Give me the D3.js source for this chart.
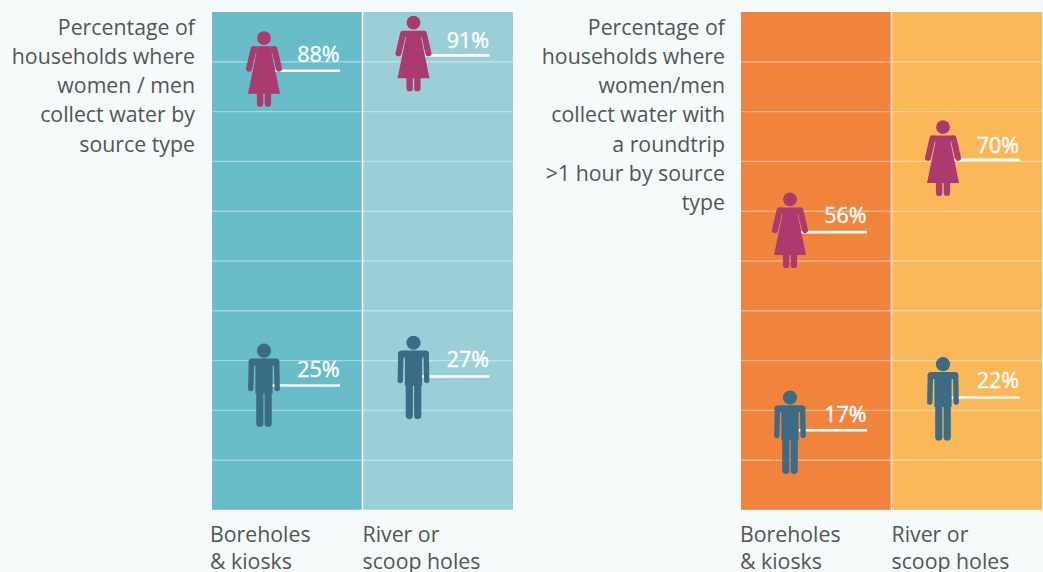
<!DOCTYPE html>
<html><head><meta charset="utf-8">
<script src="https://cdn.jsdelivr.net/npm/d3@7"></script>
<style>html,body{margin:0;padding:0;background:#f5fbfb;overflow:hidden}svg{display:block}text{font-family:"Open Sans",sans-serif}</style>
</head><body><svg id="c" width="1043" height="572"></svg>
<script>
const sourceTypes = ["Boreholes & kiosks", "River or scoop holes"];
const sourceLabelLines = [["Boreholes", "& kiosks"], ["River or", "scoop holes"]];
const gridTicks = [10, 20, 30, 40, 50, 60, 70, 80, 90];
// printed percentages
const womenAll = [88, 91], menAll = [25, 27];
const womenLong = [56, 70], menLong = [17, 22];
// marker heights
const womenAllLevel = [88.2, 91.3], menAllLevel = [25, 26.8];
const womenLongLevel = [55.8, 70.3], menLongLevel = [16, 22.6];
const titleAll = ["Percentage of", "households where", "women / men", "collect water by", "source type"];
const titleLong = ["Percentage of", "households where", "women/men", "collect water with", "a roundtrip", ">1 hour by source", "type"];
const allColours = ["#68bdc9", "#9acfd8"], longColours = ["#f1843c", "#fbb858"];
const womanColour = "#ab3a6e", manColour = "#3b6b85", textColour = "#555555";

const panels = [
  {left: 212, right: 513, titleX: 195, colours: allColours, title: titleAll, labelShift: [-2, 0],
   women: womenAll, men: menAll, wl: womenAllLevel, ml: menAllLevel, off: [52, 51], end: [128, 127],
   wGap: [8.8, 7.3], mGap: [8.2, 9.2], mNudge: [0, 1]},
  {left: 741, right: 1042, titleX: 725, colours: longColours, title: titleLong, labelShift: [-1, 0],
   women: womenLong, men: menLong, wl: womenLongLevel, ml: menLongLevel, off: [49, 51.5], end: [126, 128],
   wGap: [8.8, 7], mGap: [8.5, 9.5], mNudge: [2, 1.5]}
];

const svg = d3.select("#c");
const y = d3.scaleLinear().domain([0, 100]).range([510, 12]);

function drawWoman(g) {
  g.append("circle").attr("cx", 0).attr("cy", -32.7).attr("r", 6.9);
  g.append("path").attr("d", "M-10,-24.5L10,-24.5Q12.5,-24.5 13,-21L7.5,-18L16,23L-16,23L-7.5,-18L-13,-21Q-12.5,-24.5 -10,-24.5Z");
  [-1, 1].forEach(s => {
    g.append("line").attr("x1", s * 10.5).attr("y1", -21.5).attr("x2", s * 15).attr("y2", -2)
      .attr("stroke", "currentColor").attr("stroke-width", 6).attr("stroke-linecap", "round");
    g.append("line").attr("x1", s * 3.9).attr("y1", 22).attr("x2", s * 3.9).attr("y2", 32.8)
      .attr("stroke", "currentColor").attr("stroke-width", 6.4).attr("stroke-linecap", "round");
  });
}
function drawMan(g) {
  g.append("circle").attr("cx", 0).attr("cy", -34.8).attr("r", 7.1);
  g.append("rect").attr("x", -15.4).attr("y", -27).attr("width", 30.8).attr("height", 7).attr("rx", 3.5);
  g.append("rect").attr("x", -8.6).attr("y", -25).attr("width", 17.2).attr("height", 33);
  [-1, 1].forEach(s => {
    g.append("line").attr("x1", s * 12.6).attr("y1", -23.5).attr("x2", s * 13.2).attr("y2", 3)
      .attr("stroke", "currentColor").attr("stroke-width", 5.4).attr("stroke-linecap", "round");
    g.append("line").attr("x1", s * 4.2).attr("y1", 5).attr("x2", s * 4.2).attr("y2", 38)
      .attr("stroke", "currentColor").attr("stroke-width", 7.2).attr("stroke-linecap", "round");
  });
}

panels.forEach(p => {
  const x = d3.scaleBand().domain(sourceTypes).range([p.left, p.right]);
  const g = svg.append("g");

  g.selectAll("rect.col").data(sourceTypes).join("rect").attr("class", "col")
    .attr("x", d => x(d)).attr("y", y(100)).attr("width", x.bandwidth()).attr("height", y(0) - y(100))
    .attr("fill", (d, i) => p.colours[i]);

  g.selectAll("line.grid").data(gridTicks).join("line").attr("class", "grid")
    .attr("x1", p.left).attr("x2", p.right).attr("y1", d => y(d)).attr("y2", d => y(d))
    .attr("stroke", "#fff").attr("stroke-opacity", 0.38).attr("stroke-width", 1.4);
  g.append("line").attr("x1", p.left).attr("x2", p.right).attr("y1", y(0)).attr("y2", y(0))
    .attr("stroke", "#fff").attr("stroke-opacity", 0.38).attr("stroke-width", 1.2);
  g.append("line").attr("x1", x(sourceTypes[1])).attr("x2", x(sourceTypes[1])).attr("y1", y(100)).attr("y2", y(0))
    .attr("stroke", "#fff").attr("stroke-width", 1.6);

  const groups = [
    {vals: p.women, lev: p.wl, gapY: p.wGap, nudge: [0, 0], colour: womanColour, draw: drawWoman, gap: 9},
    {vals: p.men, lev: p.ml, gapY: p.mGap, nudge: p.mNudge, colour: manColour, draw: drawMan, gap: 8}
  ];
  groups.forEach(s => {
    sourceTypes.forEach((cat, i) => {
      const cx = x(cat) + p.off[i], ly = y(s.lev[i]), xEnd = x(cat) + p.end[i];
      g.append("line").attr("x1", cx + s.gap).attr("x2", xEnd).attr("y1", ly).attr("y2", ly)
        .attr("stroke", "#fff").attr("stroke-width", 2.6);
      const fig = g.append("g").attr("transform", `translate(${cx},${ly + s.nudge[i]})`)
        .attr("fill", s.colour).attr("color", s.colour);
      s.draw(fig);
      g.append("text").attr("x", xEnd - 0.5).attr("y", ly - s.gapY[i]).attr("text-anchor", "end")
        .attr("font-size", 21.5).attr("font-weight", 400).attr("stroke", "#fff").attr("stroke-width", 0.4)
        .attr("fill", "#fff").text(s.vals[i] + "%");
    });
  });

  g.selectAll("text.title").data(p.title).join("text").attr("class", "title")
    .attr("x", p.titleX).attr("y", (d, i) => 34.5 + i * 29.3).attr("text-anchor", "end")
    .attr("font-size", 21.3).attr("fill", textColour).text(d => d);

  sourceTypes.forEach((cat, i) => {
    sourceLabelLines[i].forEach((line, k) => {
      g.append("text").attr("x", x(cat) + p.labelShift[i]).attr("y", 542 + k * 27)
        .attr("font-size", 21.3).attr("fill", textColour).text(line);
    });
  });
});
</script></body></html>
